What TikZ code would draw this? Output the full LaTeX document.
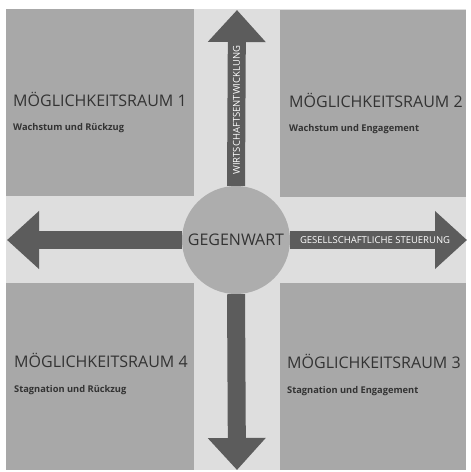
\documentclass[tikz,border=0pt]{standalone}
\usepackage{fontspec}
\setmainfont{Open Sans}
\usetikzlibrary{arrows.meta}

\definecolor{bandgray}{gray}{0.87}
\definecolor{fieldgray}{gray}{0.66}
\definecolor{circlegray}{gray}{0.68}
\definecolor{arrowgray}{gray}{0.36}
\definecolor{textgray}{gray}{0.2}

\begin{document}
\begin{tikzpicture}[x=1pt,y=-1pt,
    title/.style={anchor=base west,inner sep=0pt,text=textgray,font=\fontsize{16}{17}\selectfont},
    sub/.style={anchor=base west,inner sep=0pt,text=textgray,font=\fontsize{9.3}{10}\selectfont\bfseries},
    bigarrow/.style={draw=arrowgray,line width=18pt,-{Triangle[width=56pt,length=32pt]}},
    axislabel/.style={inner sep=0pt,text=white,font=\fontsize{9.5}{10}\selectfont}]
    \useasboundingbox[fill=white] (0,0) rectangle (471,472);
    % background and the four fields
    \fill[bandgray] (6,9) rectangle (466,470);
    \fill[fieldgray] (6,9) rectangle (194,196);
    \fill[fieldgray] (280,10) rectangle (466,197);
    \fill[fieldgray] (6,283) rectangle (194,470);
    \fill[fieldgray] (280,283) rectangle (466,470);
    \node[title] (t1) at (13,106) {MÖGLICHKEITSRAUM 1};
    \node[sub] (s1) at (13,130) {Wachstum und Rückzug};
    \node[title] (t2) at (289,107) {MÖGLICHKEITSRAUM 2};
    \node[sub] (s2) at (289,131) {Wachstum und Engagement};
    \node[title] (t4) at (14,367) {MÖGLICHKEITSRAUM 4};
    \node[sub] (s4) at (14,392) {Stagnation und Rückzug};
    \node[title] (t3) at (287,368) {MÖGLICHKEITSRAUM 3};
    \node[sub] (s3) at (287,393) {Stagnation und Engagement};
    % the present and the two axes
    \node[circle,fill=circlegray,minimum size=108pt,inner sep=0pt,text=textgray,
        font=\fontsize{16}{16}\selectfont] (now) at (236,240) {GEGENWART};
    \coordinate (up) at (237,10);
    \coordinate (down) at (237,470);
    \coordinate (left) at (7,240);
    \coordinate (right) at (467,240);
    \draw[bigarrow] (now.north) -- (up)
        node[axislabel,pos=0.43,rotate=90]{WIRTSCHAFTSENTWICKLUNG};
    \draw[bigarrow] (now.south) -- (down);
    \draw[bigarrow] (now.west) -- (left);
    \draw[bigarrow] (now.east) -- (right)
        node[axislabel,pos=0.48]{GESELLSCHAFTLICHE STEUERUNG};
\end{tikzpicture}
\end{document}
